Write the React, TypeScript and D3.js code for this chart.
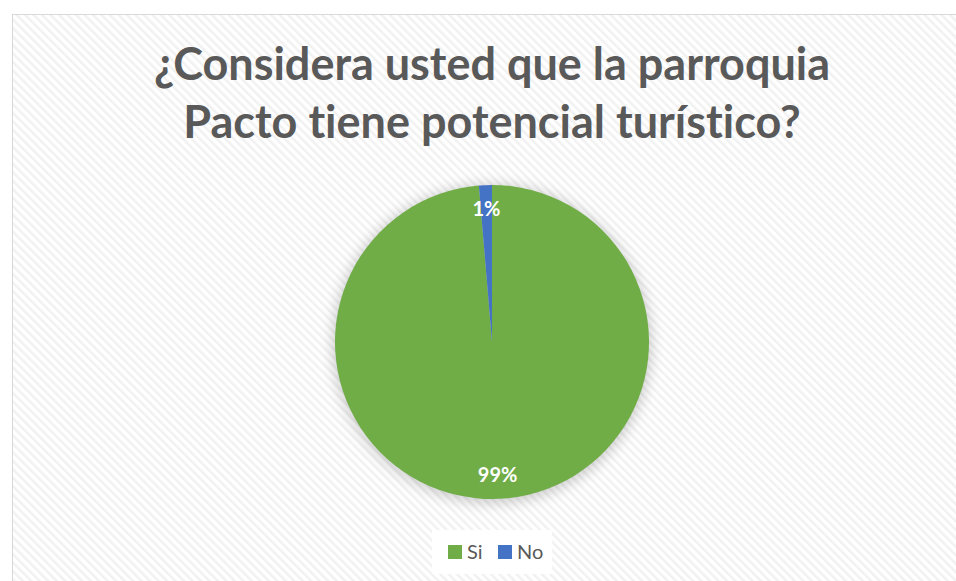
import React from "react";
import { pie, arc, scaleOrdinal } from "d3";

const W = 956;
const H = 581;

const categories = ["Si", "No"];
const values = [296, 4];
const colors = ["#70ad47", "#4472c4"];
const titleLines = ["¿Considera usted que la parroquia", "Pacto tiene potencial turístico?"];

const CX = 492;
const CY = 342;
const R = 157;

export default function App() {
  const color = scaleOrdinal<string, string>().domain(categories).range(colors);
  const data = categories.map((c, i) => ({ name: c, value: values[i] }));
  const total = values.reduce((a, b) => a + b, 0);
  const slices = pie<{ name: string; value: number }>().sort(null).value((d) => d.value)(data);
  const arcGen = arc<any>().innerRadius(0).outerRadius(R);
  const labelArc = arc<any>().innerRadius(R * 0.85).outerRadius(R * 0.85);

  return (
    <svg
      width={W}
      height={H}
      style={{
        position: "fixed",
        left: 0,
        top: 0,
        fontFamily: "Lato, 'Open Sans', sans-serif",
        fontVariantLigatures: "none",
      }}
    >
      <defs>
        <pattern id="hatch" width="6" height="6" patternUnits="userSpaceOnUse" patternTransform="rotate(-45)">
          <rect width="6" height="6" fill="#ffffff" />
          <rect width="2.5" height="6" fill="#f1f1f1" />
        </pattern>
        <filter id="glow" x="-30%" y="-30%" width="160%" height="160%">
          <feGaussianBlur stdDeviation="7" />
        </filter>
      </defs>
      <rect x={0} y={0} width={W} height={H} fill="#ffffff" />
      <rect x={12.5} y={14.5} width={W} height={H} fill="url(#hatch)" stroke="#d9d9d9" strokeWidth={1} />

      {titleLines.map((t, i) => (
        <text
          key={i}
          x={CX}
          y={80 + i * 58}
          textAnchor="middle"
          fontSize={45}
          fontWeight={700}
          fill="#595959"
        >
          {t}
        </text>
      ))}

      <circle cx={CX} cy={CY + 2} r={R + 2} fill="#000" opacity={0.2} filter="url(#glow)" />
      <g transform={`translate(${CX},${CY})`}>
        {slices.map((s) => (
          <path key={s.data.name} d={arcGen(s) as string} fill={color(s.data.name)} />
        ))}
        {slices.map((s) => {
          const [lx, ly] = labelArc.centroid(s);
          return (
            <text
              key={"l" + s.data.name}
              x={lx}
              y={ly}
              dy="0.35em"
              textAnchor="middle"
              fontSize={20}
              fontWeight={700}
              fill="#ffffff"
            >
              {`${Math.round((s.data.value / total) * 100)}%`}
            </text>
          );
        })}
      </g>

      <rect x={432} y={530} width={120} height={44} fill="#ffffff" />
      {categories.map((c, i) => (
        <g key={c} transform={`translate(${448 + i * 50},545)`}>
          <rect width={14} height={14} fill={color(c)} />
          <text x={19} y={14} fontSize={20} fill="#595959">
            {c}
          </text>
        </g>
      ))}
    </svg>
  );
}
